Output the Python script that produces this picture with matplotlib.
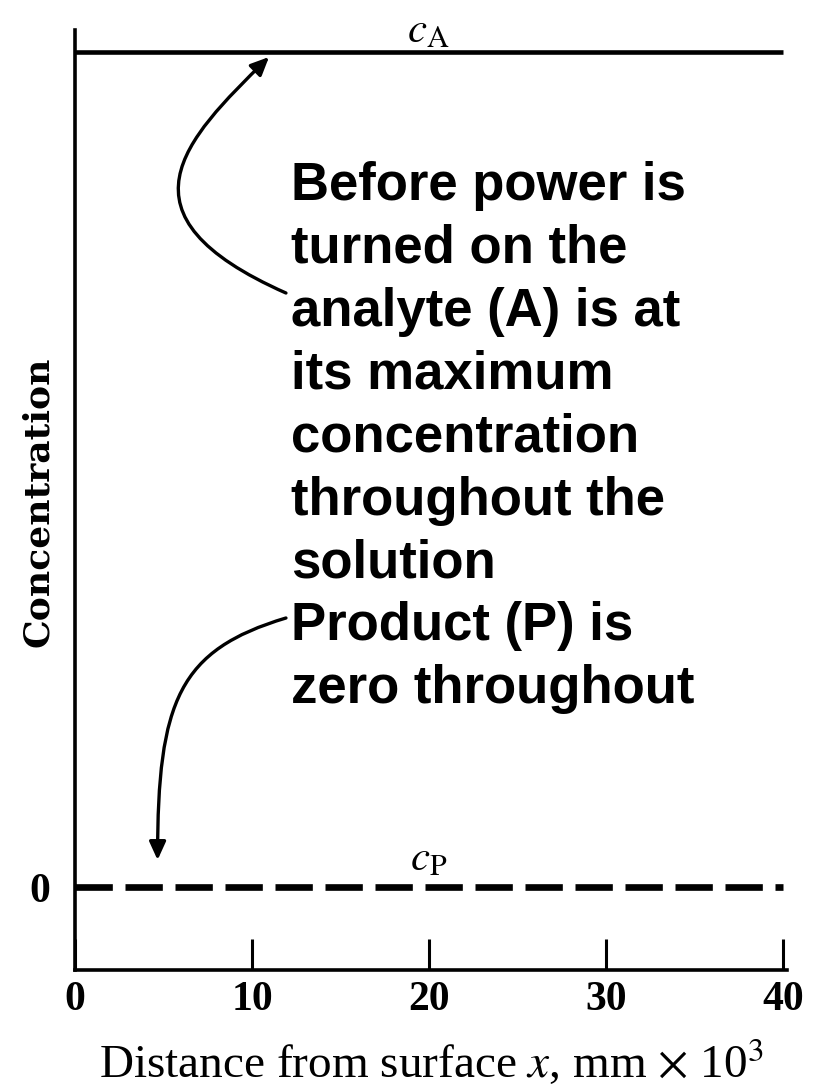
import numpy as np
import matplotlib.pyplot as plt
from matplotlib.path import Path
from matplotlib.patches import FancyArrowPatch

plt.rcParams["mathtext.fontset"] = "stix"

# data
distance = [0, 40]
conc_A = [1, 1]
conc_P = [0, 0]
xticks = [0, 10, 20, 30, 40]
note_lines = ["Before power is", "turned on the", "analyte (A) is at", "its maximum",
              "concentration", "throughout the", "solution", "Product (P) is",
              "zero throughout"]

W, H = 814, 1092
fig = plt.figure(figsize=(W/100, H/100), dpi=100)
ax = fig.add_axes([75/W, (H-970)/H, 712/W, 940/H])

ax.set_xlim(0, 40.2)
ax.set_ylim(-83/835, (887-30)/835)

ax.plot(distance, conc_A, color="black", lw=3.3, solid_capstyle="butt")
ln, = ax.plot(distance, conc_P, color="black", lw=4.8)
ln.set_dashes((5.6, 1.9))

for s in ["top", "right"]:
    ax.spines[s].set_visible(False)
for s in ["left", "bottom"]:
    ax.spines[s].set_linewidth(2.6)

ax.set_xticks(xticks)
ax.set_xticklabels([str(t) for t in xticks], family="Liberation Serif", weight="bold", fontsize=30)
ax.tick_params(axis="x", direction="in", length=22, width=2.2, pad=8)
ax.set_yticks([0])
ax.set_yticklabels(["0"], family="Liberation Serif", weight="bold", fontsize=30)
ax.tick_params(axis="y", length=0, pad=18)

ax.set_xlabel(r"Distance from surface $x$, mm $\times$ 10$^3$", family="Liberation Serif",
              fontsize=34)
ax.xaxis.label.set_va("center")
ax.xaxis.set_label_coords(0.501, -0.098)
ax.set_ylabel("Concentration", family="DejaVu Serif", weight="bold", fontsize=26)
ax.yaxis.label.set_va("center")
ax.yaxis.set_label_coords(-0.052, 0.498)

def px(x, y):
    return ((x - 75) / 712 * 40, (887 - y) / 835)

ax.text(*px(430, 30), r"$c_{\mathrm{A}}$", fontsize=31, ha="center", va="center")
ax.text(*px(430, 858), r"$c_{\mathrm{P}}$", fontsize=31, ha="center", va="center")

for i, line in enumerate(note_lines):
    ax.text(*px(292, 200 + i * 62.9), line, family="Liberation Sans", weight="bold",
            fontsize=38, ha="left", va="baseline")

def curved_arrow(pts):
    verts = [px(*p) for p in pts]
    path = Path(verts, [Path.MOVETO, Path.CURVE4, Path.CURVE4, Path.CURVE4])
    arr = FancyArrowPatch(path=path, arrowstyle="-|>,head_length=11,head_width=5",
                          color="black", lw=2.4, mutation_scale=1)
    ax.add_patch(arr)

curved_arrow([(287, 293), (110, 215), (185, 140), (270, 57)])
curved_arrow([(287, 618), (180, 650), (158, 700), (158, 860)])

fig.savefig("out.png", dpi=100)
